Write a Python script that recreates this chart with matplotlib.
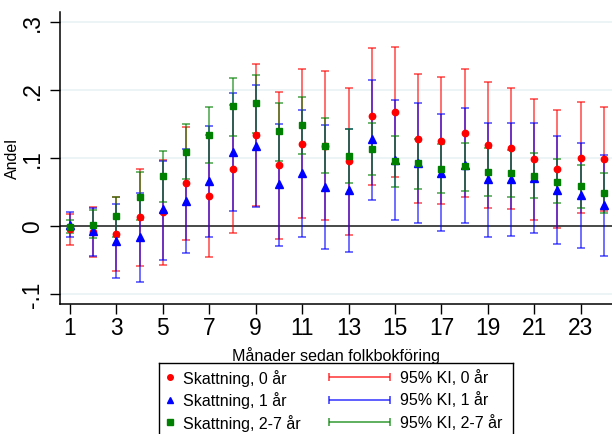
import numpy as np
import matplotlib
matplotlib.use("Agg")
import matplotlib.pyplot as plt

plt.rcParams['font.family'] = ['Liberation Sans', 'DejaVu Sans']

# months since registration
months = list(range(1, 25))

# estimates and 95% CI, 0 years
est0 = [-0.005, -0.009, -0.012, 0.013, 0.021, 0.063, 0.044, 0.084, 0.134, 0.089, 0.121, 0.118,
        0.095, 0.161, 0.167, 0.128, 0.125, 0.137, 0.119, 0.114, 0.098, 0.083, 0.100, 0.098]
lo0 = [-0.028, -0.046, -0.066, -0.059, -0.057, -0.020, -0.045, -0.010, 0.029, -0.019, 0.011, 0.008,
       -0.013, 0.060, 0.072, 0.033, 0.032, 0.043, 0.027, 0.025, 0.009, -0.003, 0.019, 0.022]
hi0 = [0.017, 0.028, 0.042, 0.084, 0.097, 0.145, 0.133, 0.178, 0.238, 0.196, 0.231, 0.228,
       0.202, 0.262, 0.263, 0.223, 0.219, 0.230, 0.211, 0.203, 0.186, 0.171, 0.182, 0.174]

# 1 year
est1 = [0.002, -0.007, -0.022, -0.017, 0.025, 0.037, 0.066, 0.109, 0.118, 0.061, 0.078, 0.057,
        0.053, 0.127, 0.097, 0.092, 0.077, 0.089, 0.069, 0.069, 0.070, 0.053, 0.045, 0.030]
lo1 = [-0.017, -0.044, -0.076, -0.082, -0.050, -0.040, -0.017, 0.022, 0.028, -0.029, -0.017, -0.034,
       -0.038, 0.038, 0.009, 0.004, -0.007, 0.004, -0.016, -0.015, -0.010, -0.027, -0.033, -0.044]
hi1 = [0.021, 0.027, 0.032, 0.048, 0.096, 0.113, 0.147, 0.195, 0.207, 0.150, 0.170, 0.148,
       0.142, 0.215, 0.185, 0.180, 0.164, 0.173, 0.151, 0.151, 0.151, 0.132, 0.122, 0.104]

# 2-7 years
est2 = [-0.001, 0.002, 0.014, 0.043, 0.073, 0.109, 0.134, 0.176, 0.180, 0.139, 0.148, 0.118,
        0.102, 0.113, 0.095, 0.092, 0.084, 0.088, 0.079, 0.077, 0.074, 0.065, 0.058, 0.049]
lo2 = [-0.010, -0.018, -0.016, 0.009, 0.035, 0.069, 0.092, 0.132, 0.136, 0.096, 0.106, 0.077,
       0.063, 0.075, 0.057, 0.054, 0.048, 0.051, 0.044, 0.043, 0.041, 0.033, 0.027, 0.019]
hi2 = [0.008, 0.023, 0.042, 0.079, 0.110, 0.149, 0.175, 0.218, 0.222, 0.181, 0.189, 0.159,
       0.142, 0.151, 0.132, 0.128, 0.120, 0.122, 0.114, 0.111, 0.107, 0.098, 0.090, 0.078]

xticks = list(range(1, 24, 2))
yticks = [-0.1, 0, 0.1, 0.2, 0.3]
ytick_labels = ['-.1', '0', '.1', '.2', '.3']

est_labels = ['Skattning, 0 år', 'Skattning, 1 år', 'Skattning, 2-7 år']
ci_labels = ['95% KI, 0 år', '95% KI, 1 år', '95% KI, 2-7 år']

colors = ['#ff0000', '#0000ff', '#008000']
markers = ['o', '^', 's']
msizes = [4.6, 5.2, 5.0]

W, H = 612, 435
fig = plt.figure(figsize=(W / 100, H / 100), dpi=100)
ax = fig.add_axes([60.3 / W, (H - 304.7) / H, 1 - 60.3 / W, (304.7 - 12.7) / H])

ax.set_xlim(0.58, 24.35)
ax.set_ylim(-0.1143, 0.3147)

for y in yticks:
    ax.axhline(y, color='#eaf2f3', lw=1.2, zorder=0)
ax.axhline(0, color='#3a3a3a', lw=1.3, zorder=1)

m = np.array(months)
series = [(est0, lo0, hi0), (est1, lo1, hi1), (est2, lo2, hi2)]
# confidence intervals first, markers on top
for (est, lo, hi), c in zip(series, colors):
    est, lo, hi = np.array(est), np.array(lo), np.array(hi)
    ax.errorbar(m, est, yerr=[est - lo, hi - est], fmt='none', ecolor=c,
                elinewidth=1.1, capsize=2.9, capthick=1.1, alpha=0.72, zorder=2)
for (est, lo, hi), c, mk, ms in zip(series, colors, markers, msizes):
    ax.plot(m, est, linestyle='none', marker=mk, ms=ms, color=c, mec=c, zorder=3)

for s in ['top', 'right']:
    ax.spines[s].set_visible(False)
ax.spines['left'].set_linewidth(1.1)
ax.spines['bottom'].set_linewidth(1.1)

ax.set_xticks(xticks)
ax.set_xticklabels([str(t) for t in xticks], fontsize=16.4)
ax.set_yticks(yticks)
ax.set_yticklabels(ytick_labels, fontsize=16.4, rotation=90, va='center')
ax.tick_params(axis='x', length=7, width=1, pad=1.8)
ax.tick_params(axis='y', length=7, width=1, pad=4.5)
ax.set_xlabel('Månader sedan folkbokföring', fontsize=11.6)
ax.xaxis.set_label_coords(0.5, -0.145)
ax.set_ylabel('Andel', fontsize=11.5)
ax.yaxis.set_label_coords(-0.073, 0.5)

# legend box, cut off at the bottom edge as in the original
lx0, lx1, ly0 = 159.3, 512.7, 364.3
lg = fig.add_axes([lx0 / W, -0.01, (lx1 - lx0) / W, (H - ly0) / H + 0.01])
lg.set_xlim(lx0, lx1)
lg.set_ylim(H + 4.35, ly0)
lg.set_xticks([])
lg.set_yticks([])
lg.spines['bottom'].set_visible(False)
for s in ['left', 'top', 'right']:
    lg.spines[s].set_linewidth(1.0)
rows = [378.3, 400.5, 423.3]
for r, c, mk, ms, t1, t2 in zip(rows, colors, markers, msizes, est_labels, ci_labels):
    lg.plot([170], [r], marker=mk, ms=ms - 0.6, color=c, linestyle='none')
    lg.text(183, r, t1, fontsize=11.5, va='center', ha='left')
    lg.errorbar([359.6], [r], xerr=[[30.4]], fmt='none', ecolor=c, elinewidth=1.1,
                capsize=2.9, capthick=1.1, alpha=0.8)
    lg.text(400, r, t2, fontsize=11.5, va='center', ha='left')

fig.savefig('out.png', dpi=100)
